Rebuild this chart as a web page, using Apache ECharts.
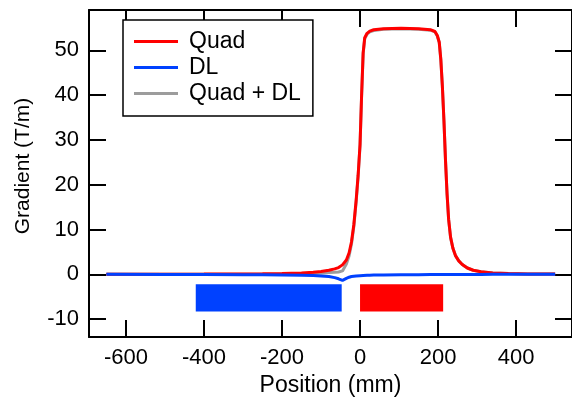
<!DOCTYPE html>
<html>
<head>
<meta charset="utf-8">
<script src="https://cdn.jsdelivr.net/npm/echarts@6/dist/echarts.min.js"></script>
<style>
  html, body { margin: 0; padding: 0; background: #fff; }
  #chart { width: 572px; height: 402px; }
</style>
</head>
<body>
<div id="chart"></div>
<script>
// Longitudinal positions (mm) at which the gradients are sampled
const positionsMm = [-650, -500, -400, -300, -250, -200, -150, -120, -100, -80, -65, -55, -45, -35, -28, -22, -16, -10, -5, 0,
  4, 8, 12, 18, 25, 35, 60, 105, 150, 180, 192, 198, 203, 207, 211, 215, 219, 223, 227, 232,
  238, 245, 253, 262, 275, 290, 310, 340, 380, 430, 500];

// Quadrupole gradient (T/m)
const quadGradient = [0.0, 0.02, 0.04, 0.08, 0.12, 0.18, 0.3, 0.45, 0.6, 0.9, 1.2, 1.5, 2.1, 3.2, 4.8, 7.2, 11, 16.5, 22, 29,
  40, 49.5, 52.8, 53.8, 54.3, 54.6, 54.8, 54.9, 54.8, 54.6, 54.2, 53.3, 51.8, 48, 42, 34.4, 25.5, 18, 12.3, 8.3,
  5.8, 4.1, 3.0, 2.2, 1.4, 0.9, 0.55, 0.3, 0.15, 0.08, 0.04];

// Dipole (DL) stray gradient (T/m)
const dlGradient = [0.0, -0.02, -0.05, -0.08, -0.1, -0.14, -0.2, -0.28, -0.36, -0.5, -0.75, -1.0, -1.35, -0.9, -0.65, -0.5, -0.42, -0.36, -0.32, -0.3,
  -0.28, -0.26, -0.24, -0.22, -0.2, -0.18, -0.14, -0.1, -0.08, -0.06, -0.06, -0.05, -0.05, -0.05, -0.05, -0.05, -0.04, -0.04, -0.04, -0.04,
  -0.03, -0.03, -0.03, -0.03, -0.02, -0.02, -0.02, -0.01, -0.01, -0.01, 0.0];

// Combined gradient, Quad + DL (T/m)
const sumGradient = [0.0, 0.0, -0.01, 0.0, 0.02, 0.04, 0.1, 0.17, 0.24, 0.4, 0.45, 0.5, 0.75, 2.3, 4.15, 6.7, 10.6, 16.1, 21.7, 28.7,
  39.7, 49.2, 52.6, 53.6, 54.1, 54.4, 54.7, 54.8, 54.7, 54.5, 54.1, 53.2, 51.7, 47.9, 41.9, 34.3, 25.4, 17.9, 12.2, 8.2,
  5.8, 4.1, 3.0, 2.2, 1.4, 0.9, 0.55, 0.3, 0.15, 0.08, 0.04];

// Magnet extents along the beam line (mm) and the band they are drawn in (T/m units)
const dlExtent = [-421, -47];
const quadExtent = [0, 213];
const magnetBand = [-2.2, -8.3];

// Axis ticks
const xTicks = [-600, -400, -200, 0, 200, 400];
const yTicks = [-10, 0, 10, 20, 30, 40, 50];
const xRange = [-694.6, 543.2];
const yRange = [-14, 59];

const FONT = 'Liberation Sans, Arial, Helvetica, sans-serif';
const RED = '#ff0000';
const BLUE = '#0041ff';
const GREY = '#9c9c9c';

const pairs = (ys) => positionsMm.map((x, i) => [x, ys[i]]);

function frameAxis(ticks, showLabels) {
  return {
    type: 'value',
    scale: true,
    axisLine: { show: true, onZero: false, lineStyle: { color: '#000', width: 2 } },
    axisTick: { show: true, inside: true, length: 17, customValues: ticks,
                lineStyle: { color: '#000', width: 2 } },
    axisLabel: { show: showLabels, customValues: ticks, color: '#000', fontSize: 22,
                 fontFamily: FONT, margin: 10 },
    splitLine: { show: false }
  };
}

const chart = echarts.init(document.getElementById('chart'), null, { renderer: 'canvas' });

const magnetData = [
  [dlExtent[0], dlExtent[1], magnetBand[0], magnetBand[1]],
  [quadExtent[0], quadExtent[1], magnetBand[0], magnetBand[1]]
];
const magnetColors = [BLUE, RED];

chart.setOption({
  animation: false,
  backgroundColor: '#fff',
  grid: { left: 89, top: 10, right: -1, bottom: 65, containLabel: false },
  xAxis: [
    Object.assign(frameAxis(xTicks, true), {
      position: 'bottom', min: xRange[0], max: xRange[1],
      name: 'Position (mm)', nameLocation: 'middle', nameGap: 25,
      nameTextStyle: { color: '#000', fontSize: 23, fontFamily: FONT }
    }),
    Object.assign(frameAxis(xTicks, false), { position: 'top', min: xRange[0], max: xRange[1] })
  ],
  yAxis: [
    Object.assign(frameAxis(yTicks, true), {
      position: 'left', min: yRange[0], max: yRange[1],
      name: 'Gradient (T/m)', nameLocation: 'middle', nameGap: 55,
      nameTextStyle: { color: '#000', fontSize: 21, fontFamily: FONT, padding: [0, 0, 0, 15] }
    }),
    Object.assign(frameAxis(yTicks, false), { position: 'right', min: yRange[0], max: yRange[1] })
  ],
  legend: {
    left: 123, top: 20, orient: 'vertical',
    selectedMode: false,
    backgroundColor: '#fff', borderColor: '#000', borderWidth: 1.5, borderRadius: 0,
    padding: [10, 12, 11, 11],
    itemGap: 3, itemWidth: 44, itemHeight: 3, icon: 'rect',
    textStyle: { color: '#000', fontSize: 23, fontFamily: FONT, lineHeight: 23, padding: [0, 0, 0, 6] },
    data: ['Quad', 'DL', 'Quad + DL']
  },
  series: [
    { name: 'Quad', type: 'line', data: pairs(quadGradient), showSymbol: false, symbol: 'none',
      lineStyle: { color: RED, width: 3 }, itemStyle: { color: RED }, z: 3 },
    { name: 'DL', type: 'line', data: pairs(dlGradient), showSymbol: false, symbol: 'none',
      lineStyle: { color: BLUE, width: 3 }, itemStyle: { color: BLUE }, z: 4 },
    { name: 'Quad + DL', type: 'line', data: pairs(sumGradient), showSymbol: false, symbol: 'none',
      lineStyle: { color: GREY, width: 3 }, itemStyle: { color: GREY }, z: 2 },
    { type: 'custom', data: magnetData, z: 1, silent: true,
      renderItem: function (params, api) {
        const p0 = api.coord([api.value(0), api.value(2)]);
        const p1 = api.coord([api.value(1), api.value(3)]);
        return {
          type: 'rect',
          shape: { x: p0[0], y: p0[1], width: p1[0] - p0[0], height: p1[1] - p0[1] },
          style: { fill: magnetColors[params.dataIndex] }
        };
      } }
  ]
});
</script>
</body>
</html>
